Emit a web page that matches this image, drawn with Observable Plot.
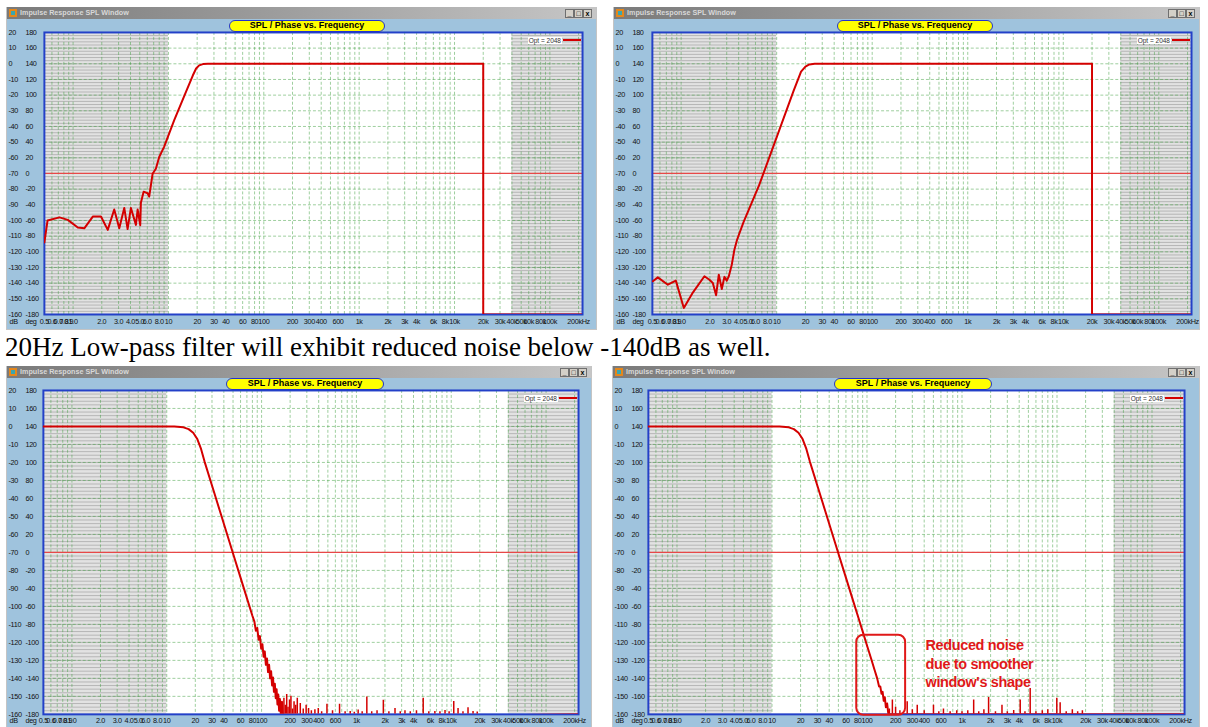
<!DOCTYPE html>
<html><head><meta charset="utf-8">
<script src="https://cdn.jsdelivr.net/npm/d3@7"></script>
<script src="https://cdn.jsdelivr.net/npm/@observablehq/plot@0.6"></script>
<style>
html,body{margin:0;padding:0;background:#fff;}
body{width:1208px;height:727px;overflow:hidden;position:relative;font-family:"Liberation Sans",Arial,sans-serif;}
.win{position:absolute;background:#9fc3dd;box-sizing:border-box;border-left:1px solid #c4c4c4;border-right:1px solid #c4c4c4;border-bottom:1px solid #c4c4c4;overflow:hidden;}
.tbar{position:absolute;left:0;top:0;right:0;height:12px;background:linear-gradient(to right,#7a7a7a,#c6c6c6);}
.ico{position:absolute;left:2px;top:2px;width:8px;height:8px;background:#e4871c;}
.ico:after{content:"";position:absolute;left:2px;top:2px;width:4px;height:4px;background:#3aa6b0;}
.ttl{position:absolute;left:13px;top:0;line-height:12px;font-size:7.2px;font-weight:bold;color:#d8d8d8;white-space:nowrap;}
.btns{position:absolute;right:4px;top:2px;display:flex;}
.btns span{box-sizing:border-box;width:9px;height:9px;border:1px solid #6f6f6f;background:#d4d0c8;font-size:7px;line-height:7px;text-align:center;color:#000;font-weight:bold;}
.pill{position:absolute;box-sizing:border-box;height:12px;background:#ffff00;border:1.5px solid #2233cc;border-radius:7px;font-weight:bold;font-size:9px;line-height:9px;text-align:center;color:#000;font-family:"Liberation Sans Narrow","Liberation Sans",Arial,sans-serif;}
.legend{position:absolute;display:flex;align-items:center;height:10px;font-family:"Liberation Sans",Arial,sans-serif;font-size:6.5px;color:#333;}
.legend .lt{background:#fff;padding:0 1px;}
.legend .ll{width:18px;height:2px;background:#d40000;margin-left:1px;}
.win svg{position:absolute;left:0;}
.caption{position:absolute;left:5px;top:332px;font-family:"Liberation Serif","Times New Roman",serif;font-size:27px;color:#000;white-space:nowrap;}
</style>
</head><body>
<script>
// ---------- text ----------
const windowTitle = "Impulse Response SPL Window";
const chartTitle = "SPL / Phase vs. Frequency";
const legendLabel = "Opt = 2048";
const captionText = "20Hz Low-pass filter will exhibit reduced noise below -140dB as well.";
const noteText = "Reduced noise\ndue to smoother\nwindow's shape";

// ---------- axes ----------
const dbTicks = [20,10,0,-10,-20,-30,-40,-50,-60,-70,-80,-90,-100,-110,-120,-130,-140,-150,-160];
const degTicks = [180,160,140,120,100,80,60,40,20,0,-20,-40,-60,-80,-100,-120,-140,-160,-180];
const xTicks = [0.5,0.6,0.7,0.8,0.9,1,2,3,4,5,6,8,10,20,30,40,60,80,100,200,300,400,600,1000,2000,3000,4000,6000,8000,10000,20000,30000,40000,50000,60000,80000,100000,200000];
const xLabels = ["0.5","0.6","0.7","0.8","0.9","1.0","2.0","3.0","4.0","5.0","6.0","8.0","10","20","30","40","60","80","100","200","300","400","600","1k","2k","3k","4k","6k","8k","10k","20k","30k","40k","50k","60k","80k","100k","200kHz"];
const freqDomain = [0.5, 220000];
const dbDomain = [-160, 20];
const shadeBands = [{x1: 0.5, x2: 10}, {x1: 40000, x2: 220000}];

// ---------- panel A: 20 Hz high-pass, rectangular window ----------
const hpAFreq = [0.5,0.54,0.72,0.88,1.12,1.31,1.61,1.96,2.31,2.70,3.05,3.44,3.73,4.04,4.56,4.75,5.06,5.14,5.49,6.04,6.28,6.82,7.38,8.0,9.0,11.5,15,18,19.5,21,23,26,20000,20000,220000];
const hpADb   = [-114,-100,-98,-99.6,-104.5,-105,-97.5,-97.5,-106,-93,-105,-92,-105.5,-92,-102.8,-93,-103,-88.7,-81.6,-82.6,-84.8,-70.2,-67,-59.5,-53,-36,-19,-7.5,-3,-1,-0.2,0,0,-160,-160];

// ---------- panel B: 20 Hz high-pass, smoother window ----------
const hpBFreq = [0.506,0.57,0.726,0.88,1.067,1.326,1.753,1.977,2.146,2.323,2.479,2.665,2.838,3.006,3.155,3.39,3.61,3.85,4.5,6.54,10.6,15,18,20,22,25,20000,20000,220000];
const hpBDb   = [-138.8,-136.3,-141,-138.4,-155.8,-146,-135.6,-137.8,-139.9,-147.7,-134.6,-143.7,-136,-138.4,-135.6,-128.2,-118.7,-112.3,-101,-77.6,-42.7,-17.5,-5,-1.8,-0.4,0,0,-160,-160];

// ---------- panel C: 20 Hz low-pass, rectangular window ----------
const lpCFreq = [0.5,12,15,17,19,21,23,25,30,40,50,60,70,80,84,87,90,93,96,99,102,105,108,111,114,117,120,123,126,129,132,135,138,141,144,147,150,153,156,160,164,168,220000];
const lpCDb   = [0,0,-0.5,-1.5,-3.5,-7,-12.5,-19.4,-32.8,-54.1,-70.6,-84,-95.4,-105.2,-108.5,-113.5,-112,-118.5,-116.5,-123.5,-121,-128,-125,-132.5,-129,-136.5,-132.5,-140,-136,-144,-139.5,-147.5,-143,-151,-146,-154.5,-149,-158,-151.5,-161,-153,-162,-160];
const spikesCFreq = [172,178,184,190,197,204,212,220,229,238,256,275,295,313,335,365,396,430,489,560,664,760,860,950,1043,1150,1288,1450,1650,1923,2200,2553,2900,3252,3700,4300,5063,5800,6720,7600,8600,9500,10630,11800,13300,15030,16980,18800];
const spikesCDb   = [-151,-155,-149,-156,-152,-150,-157,-153,-155,-151,-154,-157,-155,-156.7,-158,-157.5,-156.7,-158.5,-154.4,-158,-154.4,-158.5,-158.4,-158.8,-157.6,-158.5,-150.4,-158.6,-158,-152.2,-158.5,-156.7,-158.6,-158,-158.5,-158,-151,-158.5,-158.4,-158.6,-157.8,-158.6,-152.8,-156.8,-158.5,-156.3,-158.4,-158.7];

// ---------- panel D: 20 Hz low-pass, smoother window ----------
const lpDFreq = [0.5,12,15,17,19,21,23,25,30,40,50,60,70,80,90,100,110,120,128,134,138,142,146,150,154,158,163,168,220000];
const lpDDb   = [0,0,-0.5,-1.5,-3.5,-7,-12.5,-19.4,-32.8,-54.1,-70.6,-84,-95.4,-105.2,-113.9,-121.7,-128.7,-135.2,-140,-144.5,-144.5,-148.5,-147.5,-152.5,-150.5,-156,-154,-160,-160];
const spikesDFreq = [172,185,200,222,265,300,338,400,501,570,638,750,880,1000,1150,1327,1500,1700,1905,2250,2635,3000,3500,4100,4600,5220,6000,7000,8000,9950,10790,12500,14500,16500,18500];
const spikesDDb   = [-157,-152,-156,-158,-153,-157.5,-155,-158,-155,-158.5,-157,-158.5,-158,-158.6,-158,-152,-158.5,-157.5,-150.7,-158.5,-155,-158.5,-157.8,-152,-158.5,-145.7,-158.5,-158,-157.5,-151,-153.5,-158.5,-157.5,-158.6,-158];

// annotation (panel D), in data units
const noteBox = [{x1: 78, x2: 255, y1: -160.5, y2: -116}];
const noteAnchor = [{f: 413, db: -117}];

// ---------- helpers ----------
const zip = (fs, ds) => fs.map((f, i) => ({f, db: ds[i]}));
const gridFreqs = [];
for (const dec of [0.1,1,10,100,1000,10000,100000]) for (let k = 1; k <= 9; k++) {
  const v = +(k * dec).toPrecision(3);
  if (v > 0.5 && v <= 220000) gridFreqs.push(v);
}
const hatch = d3.range(-158, 20, 2);
const dbGrid = dbTicks.filter(d => d < 20 && d > -160);
const xTickData = xTicks.map((v, i) => ({v, label: xLabels[i]}));
const narrow = '"Liberation Sans Narrow","Liberation Sans",Arial,sans-serif';
const RED = "#d40000";

function panel(cfg) {
  const win = document.createElement("div");
  win.className = "win";
  Object.assign(win.style, {left: cfg.left + "px", top: cfg.top + "px", width: cfg.width + "px", height: cfg.height + "px"});
  win.innerHTML = `<div class="tbar"><div class="ico"></div><div class="ttl">${windowTitle}</div><div class="btns"><span>_</span><span>□</span><span>x</span></div></div>`;
  const m = cfg.m;
  const chart = Plot.plot({
    width: cfg.width, height: cfg.svgHeight,
    marginTop: m.top, marginBottom: m.bottom, marginLeft: m.left, marginRight: m.right,
    x: {type: "log", domain: freqDomain, axis: null},
    y: {domain: dbDomain, axis: null},
    style: {background: "transparent", overflow: "visible", fontFamily: narrow, fontSize: "7.3px", letterSpacing: "-0.35px", color: "#111"},
    marks: [
      Plot.frame({fill: "#fff"}),
      Plot.rect(shadeBands, {x1: "x1", x2: "x2", y1: -160, y2: 20, fill: "#e2e2e2"}),
      Plot.ruleY(hatch, {x1: 0.5, x2: 10, stroke: "#b6b6b6"}),
      Plot.ruleY(hatch, {x1: 40000, x2: 220000, stroke: "#b6b6b6"}),
      Plot.ruleX(gridFreqs, {stroke: "#3f9f3f", strokeOpacity: 0.5, strokeDasharray: "3,2"}),
      Plot.ruleY(dbGrid, {stroke: "#3f9f3f", strokeOpacity: 0.5, strokeDasharray: "3,2"}),
      Plot.ruleY([-70], {stroke: "#e84848", strokeWidth: 1.3}),
      Plot.frame({stroke: "#2340c8", strokeWidth: 2}),
      ...(cfg.spikes ? [Plot.ruleX(cfg.spikes, {x: "f", y1: -160, y2: "db", stroke: RED, strokeWidth: 1.5, clip: true})] : []),
      Plot.line(cfg.curve, {x: "f", y: "db", stroke: RED, strokeWidth: 2, clip: true}),
      ...(cfg.extra || []),
      Plot.text(dbTicks, {y: d => d, text: d => String(d), frameAnchor: "left", dx: -(m.left - 1), textAnchor: "start"}),
      Plot.text(dbTicks, {y: d => d, text: (d, i) => String(degTicks[i]), frameAnchor: "left", dx: -(m.left - 18), textAnchor: "start"}),
      Plot.text(xTickData, {x: "v", text: "label", frameAnchor: "bottom", dy: cfg.labelDy}),
      Plot.text(["dB"], {text: d => d, frameAnchor: "bottom-left", dx: -(m.left - 2), dy: cfg.labelDy, textAnchor: "start"}),
      Plot.text(["deg"], {text: d => d, frameAnchor: "bottom-left", dx: -(m.left - 18), dy: cfg.labelDy, textAnchor: "start"})
    ]
  });
  chart.style.top = "12px";
  win.appendChild(chart);
  const pill = document.createElement("div");
  pill.className = "pill";
  pill.textContent = chartTitle;
  Object.assign(pill.style, {left: cfg.pill[0] + "px", width: cfg.pill[1] + "px", top: (12 + m.top - 12) + "px"});
  win.appendChild(pill);
  const lg = document.createElement("div");
  lg.className = "legend";
  lg.innerHTML = `<span class="lt">${legendLabel}</span><span class="ll"></span>`;
  Object.assign(lg.style, {right: (m.right + 1) + "px", top: (12 + m.top + 3) + "px"});
  win.appendChild(lg);
  document.body.appendChild(win);
}

panel({left: 6, top: 7, width: 591, height: 323, svgHeight: 311, labelDy: 10,
  m: {top: 13, bottom: 15, left: 37, right: 14}, pill: [222, 156],
  curve: zip(hpAFreq, hpADb)});
panel({left: 613, top: 7, width: 587, height: 323, svgHeight: 311, labelDy: 10,
  m: {top: 13, bottom: 15, left: 38, right: 8}, pill: [223, 156],
  curve: zip(hpBFreq, hpBDb)});
panel({left: 6, top: 366, width: 586, height: 372, svgHeight: 360, labelDy: 9,
  m: {top: 12, bottom: 23, left: 36, right: 13}, pill: [219, 158],
  curve: zip(lpCFreq, lpCDb), spikes: zip(spikesCFreq, spikesCDb)});
panel({left: 612, top: 366, width: 588, height: 372, svgHeight: 360, labelDy: 9,
  m: {top: 12, bottom: 23, left: 35, right: 15}, pill: [221, 158],
  curve: zip(lpDFreq, lpDDb), spikes: zip(spikesDFreq, spikesDDb),
  extra: [
    Plot.rect(noteBox, {x1: "x1", x2: "x2", y1: "y1", y2: "y2", rx: 7, fill: "none", stroke: "#e01818", strokeWidth: 2}),
    Plot.text(noteAnchor, {x: "f", y: "db", text: () => noteText, textAnchor: "start", lineAnchor: "top", lineHeight: 1.28, fill: "#e01818", fontSize: 14.5, fontWeight: "bold", letterSpacing: "0px", fontFamily: '"Liberation Sans",Arial,sans-serif'})
  ]});

const cap = document.createElement("div");
cap.className = "caption";
cap.textContent = captionText;
document.body.appendChild(cap);
</script>
</body></html>
